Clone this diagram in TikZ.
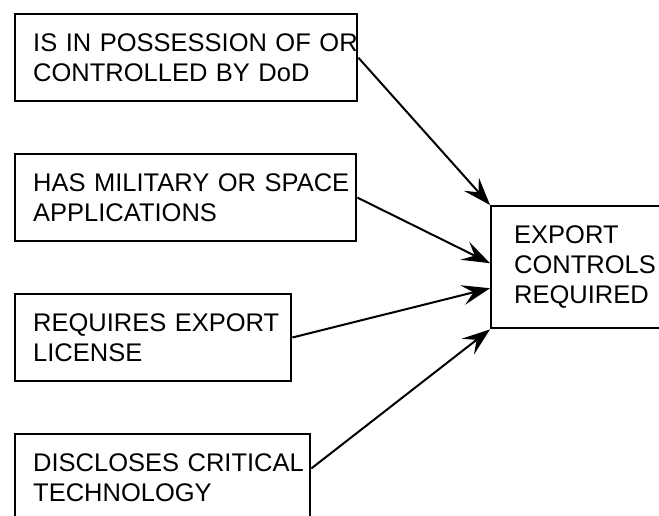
\documentclass[tikz,border=0pt]{standalone}
\usepackage{fontspec}
\setmainfont{Liberation Sans}
\usetikzlibrary{positioning,arrows.meta}

\begin{document}
\begin{tikzpicture}[x=1pt,y=-1pt,node distance=50.5pt,
	reason/.style={
		% The shape:
		rectangle,
		% The size:
		minimum height=87pt,
		inner xsep=18pt,
		% The border:
		line width=2.4pt,
		draw=black,
		% Font and text
		align=left,
		font=\fontsize{25.5}{30}\selectfont
		},
	needs/.style={
		% long barbed tip
		-{Stealth[length=28pt,width=20pt,inset=11pt]},
		line width=2pt
		}]
	\useasboundingbox (0,0) rectangle (659,515);

	\node (possession) [reason,anchor=north west,text width=306pt] at (14,13) {\mbox{IS IN POSSESSION OF OR}\\CONTROLLED BY DoD};
	\node (military) [reason,below=of possession.south west,anchor=north west,text width=305pt] {\mbox{HAS MILITARY OR SPACE}\\APPLICATIONS};
	\node (license) [reason,below=of military.south west,anchor=north west,text width=240pt] {\mbox{REQUIRES EXPORT}\\LICENSE};
	\node (disclose) [reason,below=of license.south west,anchor=north west,text width=259pt] {\mbox{DISCLOSES CRITICAL}\\TECHNOLOGY};
	\node (controls) [reason,anchor=north west,minimum height=122pt,text width=150pt,inner xsep=23pt] at (490,205) {EXPORT\\CONTROLS\\REQUIRED};

	\path (possession.east) edge[needs] (controls.north west); % top corner
	\path (military.east) edge[needs] ([yshift=4pt]controls.west);
	\path (license.east) edge[needs] ([yshift=-21pt]controls.west);
	\path ([yshift=9pt]disclose.east) edge[needs] (controls.south west); % bottom corner

\end{tikzpicture}
\end{document}
